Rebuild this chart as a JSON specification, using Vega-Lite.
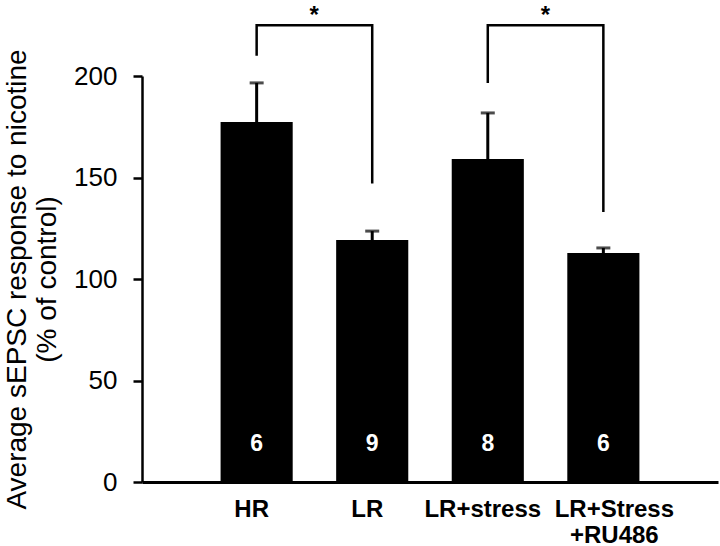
{
  "$schema": "https://vega.github.io/schema/vega-lite/v6.json",
  "autosize": "none",
  "width": 576,
  "height": 406,
  "padding": {"left": 142, "top": 76, "right": 2, "bottom": 64},
  "background": "white",
  "config": {
    "view": {"stroke": null},
    "font": "Liberation Sans"
  },
  "datasets": {
    "bars": [
      {"group": "HR", "mean": 177.3, "upper": 196.6, "n": "6"},
      {"group": "LR", "mean": 119.2, "upper": 123.6, "n": "9"},
      {"group": "LR+stress", "mean": 159.1, "upper": 181.8, "n": "8"},
      {"group": "LR+Stress +RU486", "mean": 112.8, "upper": 115.3, "n": "6"}
    ],
    "brackets": [
      {"pair": 1, "group": "HR", "y": 210, "ord": 1},
      {"pair": 1, "group": "HR", "y": 225, "ord": 2},
      {"pair": 1, "group": "LR", "y": 225, "ord": 3},
      {"pair": 1, "group": "LR", "y": 147, "ord": 4},
      {"pair": 2, "group": "LR+stress", "y": 196.6, "ord": 1},
      {"pair": 2, "group": "LR+stress", "y": 225, "ord": 2},
      {"pair": 2, "group": "LR+Stress +RU486", "y": 225, "ord": 3},
      {"pair": 2, "group": "LR+Stress +RU486", "y": 133, "ord": 4}
    ],
    "stars": [
      {"group": "HR", "y": 235.5, "label": "*"},
      {"group": "LR+stress", "y": 235.5, "label": "*"}
    ]
  },
  "encoding": {
    "x": {
      "field": "group",
      "type": "nominal",
      "sort": ["HR", "LR", "LR+stress", "LR+Stress +RU486"],
      "scale": {"paddingInner": 0.376, "paddingOuter": 0.68},
      "axis": {
        "title": null,
        "labelAngle": 0,
        "ticks": false,
        "tickSize": 0,
        "domainColor": "black",
        "domainWidth": 3,
        "labelFont": "Liberation Sans",
        "labelFontSize": 24,
        "labelFontWeight": "bold",
        "labelColor": "black",
        "labelPadding": 15,
        "labelLineHeight": 26,
        "labelOffset": {"condition": {"test": "datum.value == 'LR+Stress +RU486'", "value": 11}, "value": -5},
        "labelExpr": "datum.value == 'LR+Stress +RU486' ? ['LR+Stress', '+RU486'] : datum.value"
      }
    }
  },
  "layer": [
    {
      "data": {"name": "bars"},
      "mark": {"type": "bar", "color": "black"},
      "encoding": {
        "y": {
          "field": "mean",
          "type": "quantitative",
          "scale": {"domain": [0, 200], "nice": false},
          "axis": {
            "values": [0, 50, 100, 150, 200],
            "grid": false,
            "domainColor": "black",
            "domainWidth": 2.5,
            "tickColor": "black",
            "tickWidth": 2.5,
            "tickSize": 9,
            "labelFont": "Liberation Sans",
            "labelFontSize": 26,
            "labelColor": "black",
            "labelPadding": 16,
            "title": ["Average sEPSC response to nicotine", "(% of control)"],
            "titleFont": "Liberation Sans",
            "titleFontSize": 28,
            "titleFontWeight": "normal",
            "titleColor": "black",
            "titleLineHeight": 30,
            "titlePadding": 12
          }
        }
      }
    },
    {
      "data": {"name": "bars"},
      "mark": {"type": "rule", "color": "black", "strokeWidth": 3},
      "encoding": {
        "y": {"field": "mean", "type": "quantitative"},
        "y2": {"field": "upper"}
      }
    },
    {
      "data": {"name": "bars"},
      "mark": {"type": "tick", "color": "black", "size": 14, "thickness": 3, "orient": "horizontal"},
      "encoding": {
        "y": {"field": "upper", "type": "quantitative"}
      }
    },
    {
      "data": {"name": "bars"},
      "mark": {"type": "text", "color": "white", "fontSize": 23, "fontWeight": "bold", "baseline": "middle", "align": "center", "font": "Liberation Sans"},
      "encoding": {
        "y": {"datum": 18.5, "type": "quantitative"},
        "text": {"field": "n"}
      }
    },
    {
      "data": {"name": "brackets"},
      "mark": {"type": "line", "color": "black", "strokeWidth": 2.5, "strokeJoin": "miter", "strokeCap": "butt"},
      "encoding": {
        "y": {"field": "y", "type": "quantitative"},
        "detail": {"field": "pair"},
        "order": {"field": "ord"}
      }
    },
    {
      "data": {"name": "stars"},
      "mark": {"type": "text", "color": "black", "fontSize": 24, "fontWeight": "bold", "baseline": "top", "align": "center", "dx": 57.6, "font": "Liberation Sans"},
      "encoding": {
        "y": {"field": "y", "type": "quantitative"},
        "text": {"field": "label"}
      }
    }
  ]
}
